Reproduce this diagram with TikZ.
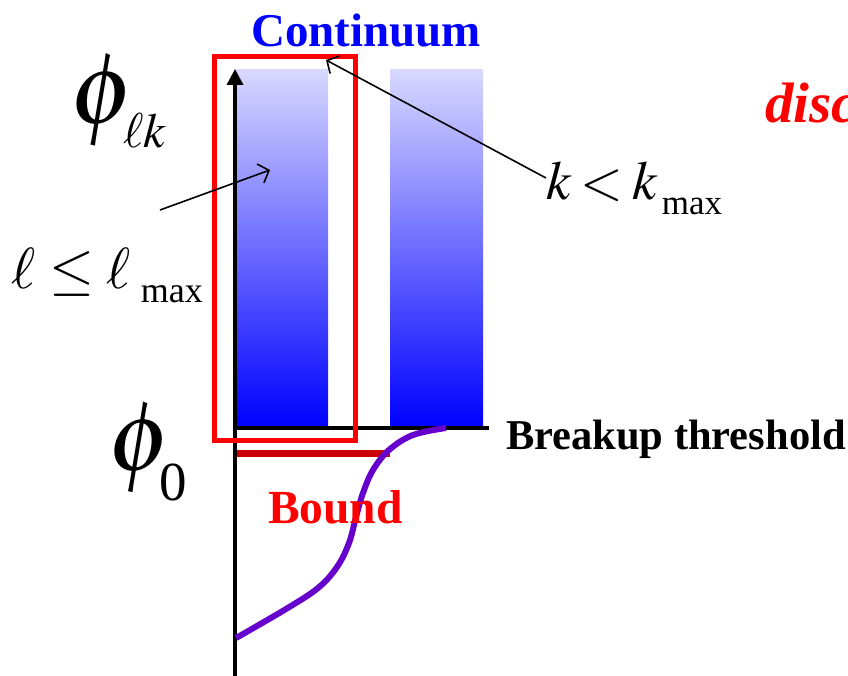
\documentclass[tikz,border=0pt]{standalone}
\usepackage{mathptmx}
\usepackage[no-math]{fontspec}
\setmainfont{Liberation Serif}
\usetikzlibrary{arrows.meta}
\definecolor{lav}{RGB}{216,216,255}
\definecolor{midlav}{RGB}{170,170,255}
\definecolor{purp}{RGB}{102,0,204}
\definecolor{dred}{RGB}{204,0,0}
\tikzset{
  barfill/.style={top color=lav, middle color=midlav, bottom color=blue},
  callout/.style={draw=black, line width=1.6pt, -{Straight Barb[length=9pt,width=20pt,line width=1.6pt]}},
  lbl/.style={inner sep=0pt, outer sep=0pt},
}
\begin{document}
\begin{tikzpicture}[x=1pt,y=-1pt]
\useasboundingbox (0,0) rectangle (848,676);
\clip (0,0) rectangle (848,676);
% continuum bars
\shade[barfill] (236,70) rectangle (328,426);
\shade[barfill] (390,70) rectangle (483,426);
% axis
\coordinate (axbot) at (235,680);
\coordinate (axtop) at (235,69);
\draw[line width=3.5pt, -{Triangle[length=16pt,width=16pt]}] (axbot) -- (axtop);
% threshold line
\coordinate (thl) at (233,428);
\coordinate (thr) at (489,428);
\draw[line width=4pt] (thl) -- (thr);
% red frame
\node[draw=red, line width=5pt, minimum width=141pt, minimum height=384pt, inner sep=0pt] (frame) at (284.5,248.5) {};
% bound level
\coordinate (bl) at (237,453.5);
\coordinate (br) at (390,453.5);
\draw[dred, line width=7pt] (bl) -- (br);
% wavefunction curve
\draw[purp, line width=6pt, line cap=butt] plot[smooth, tension=0.6] coordinates {(236,638) (286,609) (318,588) (337,567) (349,543) (356,517) (363,493) (373,470) (389,450) (413,435) (446,428)};
% texts
\node[lbl, anchor=base, text=blue] (cont) at (366,47) {\fontsize{47}{47}\selectfont\bfseries Continuum};
\node[lbl, anchor=base west] (brk) at (506,449) {\fontsize{42.5}{42.5}\selectfont\bfseries Breakup threshold};
\node[lbl, anchor=base west, text=red] (bound) at (268,523) {\fontsize{47.5}{47.5}\selectfont\bfseries Bound};
\node[lbl, anchor=base west, text=red] (disc) at (765,123) {\fontsize{57}{57}\selectfont\bfseries\itshape disc};
\node[lbl, anchor=base west] (philk) at (70,124) {\fontsize{102}{102}\selectfont$\phi$\kern-11pt\raisebox{-24pt}{\fontsize{49}{49}\selectfont$\ell k$}};
\node[lbl, anchor=base west] (phi0) at (108,470) {\fontsize{100}{100}\selectfont$\phi$\kern-12pt\raisebox{-30pt}{\fontsize{55}{55}\selectfont 0}};
\node[lbl, anchor=base west] (lcond) at (12,288) {\fontsize{58}{58}\selectfont$\ell\leq\ell$\,\raisebox{-14pt}{\fontsize{36}{36}\selectfont max}};
\node[lbl, anchor=base west] (kcond) at (546,200) {\fontsize{55}{55}\selectfont$k\mskip3mu{<}\mskip3mu k$\kern4pt\raisebox{-15pt}{\fontsize{35}{35}\selectfont max}};
% callout arrows
\coordinate (la) at (160,210);
\coordinate (lb) at (270,170);
\draw[callout] (la) -- (lb);
\coordinate (ka) at (546,178);
\coordinate (kb) at (326,60);
\draw[callout] (ka) -- (kb);
\end{tikzpicture}
\end{document}
